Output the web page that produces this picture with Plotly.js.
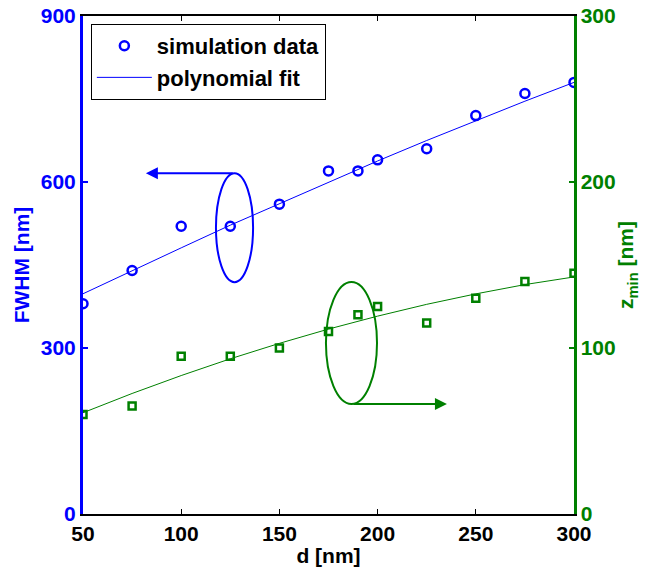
<!DOCTYPE html>
<html>
<head>
<meta charset="utf-8">
<script src="https://cdn.plot.ly/plotly-3.0.1.min.js"></script>
<style>html,body{margin:0;padding:0;background:#fff;}#chart{width:648px;height:567px;}</style>
</head>
<body>
<div id="chart"></div>
<script>
// Data
const d = [50, 75, 100, 125, 150, 175, 190, 200, 225, 250, 275, 300];
const fwhm = [380, 440, 520, 520, 560, 620, 620, 640, 660, 720, 760, 780];
const zmin = [60, 65, 95, 95, 100, 110, 120, 125, 115, 130, 140, 145];
const dFit = [50, 75, 100, 125, 150, 175, 200, 225, 250, 275, 300];
const fwhmFit = [398, 440, 481, 522, 561, 600, 638, 675, 711, 746, 780];
const zminFit = [61, 72.6, 83.4, 93.5, 102.8, 111.4, 119.2, 126.3, 132.6, 138.2, 142.8];
const xTicks = [50, 100, 150, 200, 250, 300];
const yTicks = [0, 300, 600, 900];
const y2Ticks = [0, 100, 200, 300];

const BLUE = 'rgb(0,0,255)';
const GREEN = 'rgb(0,128,0)';
const FONT = 'Liberation Sans, Arial, sans-serif';
const FS = 21;

const traces = [
  {x: dFit, y: zminFit, yaxis: 'y2', mode: 'lines', line: {color: GREEN, width: 1}, showlegend: false},
  {x: d, y: zmin, yaxis: 'y2', mode: 'markers', marker: {symbol: 'square-open', size: 7, color: GREEN, line: {width: 2.5, color: GREEN}}, showlegend: false},
  {x: dFit, y: fwhmFit, mode: 'lines', name: '<b>polynomial fit</b>', line: {color: BLUE, width: 1}},
  {x: d, y: fwhm, mode: 'markers', name: '<b>simulation data</b>', marker: {symbol: 'circle-open', size: 9, color: BLUE, line: {width: 2.5, color: BLUE}}}
];

const layout = {
  width: 648, height: 567,
  margin: {l: 83, r: 74, t: 16, b: 53},
  paper_bgcolor: '#fff', plot_bgcolor: '#fff',
  font: {family: FONT, size: FS, color: '#000'},
  showlegend: true,
  legend: {
    x: 0.016, y: 0.984, xanchor: 'left', yanchor: 'top',
    traceorder: 'reversed',
    bgcolor: '#fff', bordercolor: '#000', borderwidth: 1,
    font: {family: FONT, size: 22, color: '#000'},
    itemwidth: 55,
    tracegroupgap: 0
  },
  xaxis: {
    range: [50, 300], tickvals: xTicks, ticktext: xTicks.map(v => '<b>' + v + '</b>'),
    showgrid: false, zeroline: false,
    showline: true, linecolor: '#000', linewidth: 2, mirror: 'ticks',
    ticks: 'inside', ticklen: 5, tickwidth: 1, tickcolor: '#000',
    tickfont: {family: FONT, size: FS, color: '#000'},
    title: {text: '<b>d [nm]</b>', font: {family: FONT, size: FS, color: '#000'}, standoff: 0}
  },
  yaxis: {
    range: [0, 900], tickvals: yTicks, ticktext: yTicks.map(v => '<b>' + v + '</b>'),
    showgrid: false, zeroline: false,
    showline: true, linecolor: BLUE, linewidth: 3,
    ticks: 'inside', ticklen: 5, tickwidth: 2, tickcolor: BLUE,
    tickfont: {family: FONT, size: FS, color: BLUE},
    title: {text: '<b>FWHM [nm]</b>', font: {family: FONT, size: FS, color: BLUE}, standoff: 6}
  },
  yaxis2: {
    overlaying: 'y', side: 'right', anchor: 'x',
    range: [0, 300], tickvals: y2Ticks, ticktext: y2Ticks.map(v => '<b>' + v + '</b>'),
    showgrid: false, zeroline: false,
    showline: true, linecolor: GREEN, linewidth: 2.5,
    ticks: 'inside', ticklen: 5, tickwidth: 2, tickcolor: GREEN,
    tickfont: {family: FONT, size: FS, color: GREEN},
    title: {text: '<b>z<sub>min</sub> [nm]</b>', font: {family: FONT, size: FS, color: GREEN}, standoff: 4}
  },
  shapes: [
    {type: 'circle', xref: 'x', yref: 'y', x0: 117.7, x1: 136.6, y0: 419, y1: 616, line: {color: BLUE, width: 2}},
    {type: 'circle', xref: 'x', yref: 'y2', x0: 173.7, x1: 199.7, y0: 66.3, y1: 139.8, line: {color: GREEN, width: 2}}
  ],
  annotations: [
    {x: 82, y: 616, xref: 'x', yref: 'y', ax: 127, ay: 616, axref: 'x', ayref: 'y', text: '', showarrow: true, arrowhead: 2, arrowsize: 1.2, arrowwidth: 2, arrowcolor: BLUE},
    {x: 235.3, y: 66.3, xref: 'x', yref: 'y2', ax: 187, ay: 66.3, axref: 'x', ayref: 'y2', text: '', showarrow: true, arrowhead: 2, arrowsize: 1.2, arrowwidth: 2, arrowcolor: GREEN}
  ]
};

Plotly.newPlot('chart', traces, layout, {displayModeBar: false, staticPlot: true});
</script>
</body>
</html>
